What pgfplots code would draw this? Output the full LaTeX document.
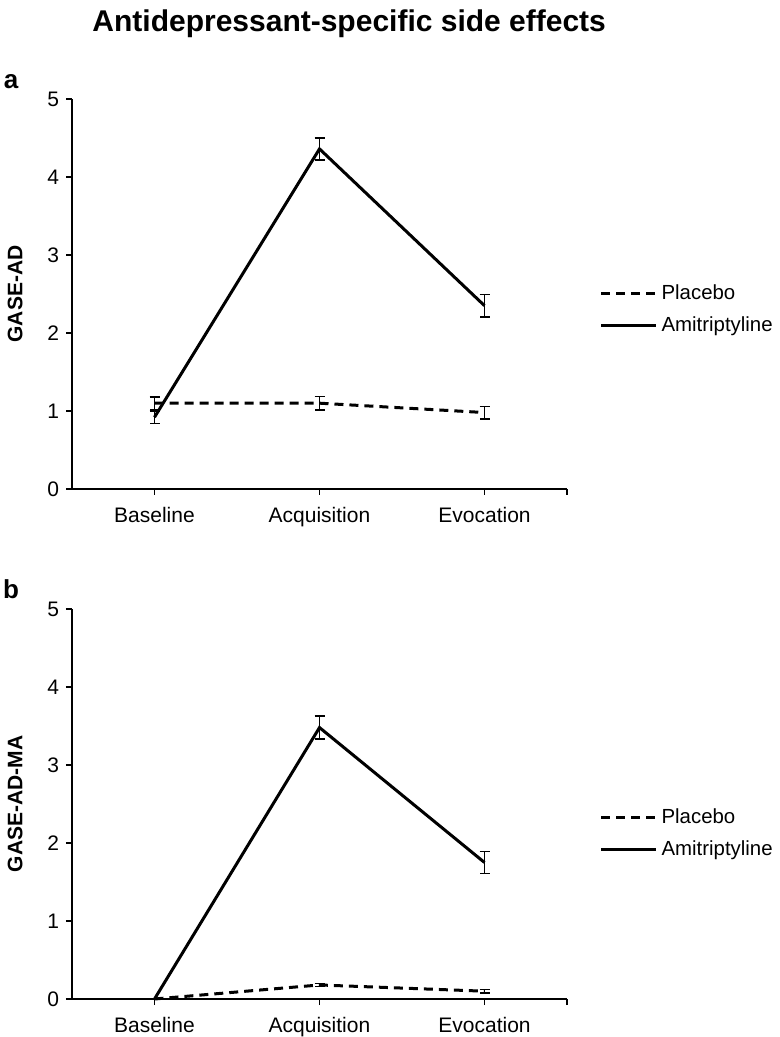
\documentclass[border=0pt]{standalone}
\usepackage{fontspec}
\setmainfont{Liberation Sans}
\usepackage{pgfplots}
\pgfplotsset{compat=1.18}
\usepackage{pgfplotstable}

\pgfplotstableread{
x y e
0.5 1.10 0.08
1.5 1.10 0.085
2.5 0.98 0.08
}\placeboA
\pgfplotstableread{
x y e
0.5 0.92 0.08
1.5 4.36 0.14
2.5 2.35 0.145
}\amiA
\pgfplotstableread{
x y e
0.5 0.00 0.00
1.5 0.18 0.02
2.5 0.10 0.02
}\placeboB
\pgfplotstableread{
x y e
0.5 0.00 0.00
1.5 3.48 0.15
2.5 1.75 0.14
}\amiB

\pgfplotsset{
 panel/.style={
  scale only axis, width=247.5pt, height=195pt,
  xmin=0, xmax=3, ymin=0, ymax=5,
  axis x line*=bottom, axis y line*=left,
  xtick={0.5,1.5,2.5,3}, xticklabels={Baseline,Acquisition,Evocation,{}},
  ytick={0,1,2,3,4,5},
  tick align=outside, major tick length=3pt,
  tick style={black, line width=0.6pt},
  axis line style={black, line width=0.6pt},
  tick label style={font=\fontsize{10.5}{12}\selectfont},
  x tick label style={yshift=-2.5pt},
  /pgf/number format/assume math mode=true,
  clip=false,
  legend style={anchor=west, draw=none, fill=none,
    font=\fontsize{10.2}{12}\selectfont, row sep=3pt, inner sep=0pt},
  legend cell align=left,
  legend image code/.code={\draw[##1] (0pt,0pt) -- (27.5pt,0pt);},
  every axis y label/.style={at={(axis description cs:-0.115,0.5)}, rotate=90, anchor=center,
    font=\bfseries\fontsize{10.5}{12}\selectfont},
 },
 errs/.style={error bars/.cd, y dir=both, y explicit,
   error bar style={line width=0.8pt, solid},
   error mark options={rotate=90, mark size=2.5pt, line width=0.8pt, solid, black}},
}

\begin{document}
\begin{tikzpicture}
\path[use as bounding box] (0,0) rectangle (390pt,518.5pt);

\begin{axis}[panel, at={(36pt,274pt)}, anchor=south west, ylabel={GASE-AD},
  legend style={at={(axis description cs:1.065,0.46)}},
  title={Antidepressant-specific side effects},
  title style={at={(axis description cs:0.56,1.172)}, anchor=base, yshift=-6pt, font=\bfseries\fontsize{15}{17}\selectfont}]
\addplot[black, line width=1.5pt, dash pattern=on 4.5pt off 3pt, mark=none, errs] table[x=x, y=y, y error=e] {\placeboA};
\addlegendentry{Placebo}
\addplot[black, line width=1.5pt, mark=none, errs] table[x=x, y=y, y error=e] {\amiA};
\addlegendentry{Amitriptyline}
\node[font=\bfseries\fontsize{13}{15}\selectfont, anchor=base] at (axis description cs:-0.123,1.026) {a};
\end{axis}

\begin{axis}[panel, at={(36pt,19pt)}, anchor=south west, ylabel={GASE-AD-MA},
  legend style={at={(axis description cs:1.065,0.425)}}]
\addplot[black, line width=1.5pt, dash pattern=on 4.5pt off 3pt, mark=none, errs] table[x=x, y=y, y error=e] {\placeboB};
\addlegendentry{Placebo}
\addplot[black, line width=1.5pt, mark=none, errs] table[x=x, y=y, y error=e] {\amiB};
\addlegendentry{Amitriptyline}
\node[font=\bfseries\fontsize{13}{15}\selectfont, anchor=base] at (axis description cs:-0.123,1.026) {b};
\end{axis}
\end{tikzpicture}
\end{document}
